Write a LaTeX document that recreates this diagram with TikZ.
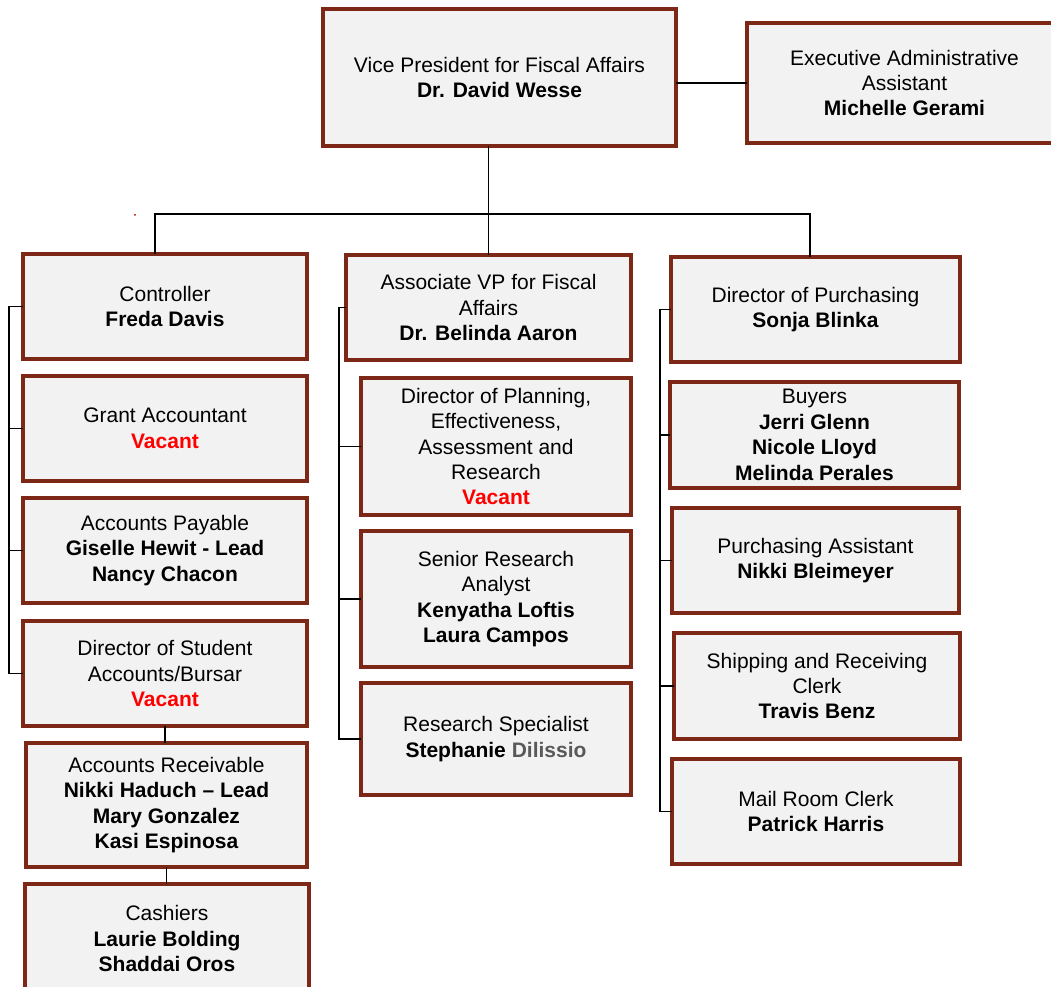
\documentclass[tikz,border=0pt]{standalone}
\usepackage{fontspec}
\setmainfont{Liberation Sans}
\definecolor{boxborder}{RGB}{125,40,22}
\definecolor{boxfill}{RGB}{242,242,242}
\definecolor{vacred}{RGB}{255,0,0}
\definecolor{namegray}{RGB}{89,89,89}
\tikzset{
  orgbox/.style={draw=boxborder, fill=boxfill, line width=2.3pt, inner sep=0pt, outer sep=0pt,
    align=center, font=\fontsize{15.75}{19.1}\selectfont},
  conn/.style={draw=black, line width=1.4pt},
}
\newcommand\vac{\textcolor{vacred}{\textbf{Vacant}}}
\newcommand\orgnode[6]{\node[orgbox, minimum width={(#4-#2)*0.75pt}, minimum height={(#5-#3)*0.75pt}] (#1) at ({(#2+#4)/2},{(#3+#5)/2+1}) {#6};}
\begin{document}
\begin{tikzpicture}[x=0.75pt,y=-0.75pt]
\useasboundingbox (0,0) rectangle (1051,987);
% coordinates for connector junctions
\coordinate (busL) at (155,214);
\coordinate (busR) at (810,214);
\coordinate (lbr) at (9,0);
\coordinate (mbr) at (339,0);
\coordinate (rbr) at (660,0);
% boxes
\orgnode{vp}{323}{8}{676}{145}{Vice President for Fiscal Affairs\\\textbf{Dr. David Wesse}}
\orgnode{exec}{747}{22}{1062}{142}{Executive Administrative\\Assistant\\\textbf{Michelle Gerami}}
% left column
\orgnode{ctrl}{23}{253}{307}{358}{Controller\\\textbf{Freda Davis}}
\orgnode{grant}{23}{375}{307}{480}{Grant Accountant\\\vac}
\orgnode{ap}{23}{497}{307}{602}{Accounts Payable\\\textbf{Giselle Hewit - Lead}\\\textbf{Nancy Chacon}}
\orgnode{dsa}{23}{620}{307}{725}{Director of Student\\Accounts/Bursar\\\vac}
\orgnode{ar}{26}{742}{307}{866}{Accounts Receivable\\\textbf{Nikki Haduch – Lead}\\\textbf{Mary Gonzalez}\\\textbf{Kasi Espinosa}}
\orgnode{cash}{25}{883}{309}{992}{Cashiers\\\textbf{Laurie Bolding}\\\textbf{Shaddai Oros}}
% middle column
\orgnode{avp}{346}{254}{631}{359}{Associate VP for Fiscal\\Affairs\\\textbf{Dr. Belinda Aaron}}
\orgnode{plan}{361}{377}{631}{514}{Director of Planning,\\Effectiveness,\\Assessment and\\Research\\\vac}
\orgnode{sra}{361}{530}{631}{666}{Senior Research\\Analyst\\\textbf{Kenyatha Loftis}\\\textbf{Laura Campos}}
\orgnode{rs}{361}{682}{631}{794}{Research Specialist\\\textbf{Stephanie \textcolor{namegray}{Dilissio}}}
% right column
\orgnode{dp}{671}{256}{960}{361}{Director of Purchasing\\\textbf{Sonja Blinka}}
\orgnode{buy}{670}{381}{959}{487}{Buyers\\\textbf{Jerri Glenn}\\\textbf{Nicole Lloyd}\\\textbf{Melinda Perales}}
\orgnode{pa}{672}{507}{959}{612}{Purchasing Assistant\\\textbf{Nikki Bleimeyer}}
\orgnode{ship}{674}{632}{960}{738}{Shipping and Receiving\\Clerk\\\textbf{Travis Benz}}
\orgnode{mail}{672}{758}{960}{863}{Mail Room Clerk\\\textbf{Patrick Harris}}
% connectors
\draw[conn] (exec.west) -- (exec.west -| vp.east);
\draw[conn] (avp.north) -- (avp.north |- vp.south);
\draw[conn] (busL |- ctrl.north) -- (busL) -- (busR) -- (busR |- dp.north);
% left bracket
\draw[conn] (ctrl.west) -- (ctrl.west -| lbr) |- (dsa.west);
\draw[conn] (grant.west) -- (grant.west -| lbr);
\draw[conn] (ap.west) -- (ap.west -| lbr);
\draw[conn] (dsa.south) -- (dsa.south |- ar.north);
\draw[conn] (ar.south) -- (ar.south |- cash.north);
% middle bracket
\draw[conn] (avp.west) -- (avp.west -| mbr) |- (rs.west);
\draw[conn] (plan.west) -- (plan.west -| mbr);
\draw[conn] (sra.west) -- (sra.west -| mbr);
% right bracket
\draw[conn] (dp.west) -- (dp.west -| rbr) |- (mail.west);
\draw[conn] (buy.west) -- (buy.west -| rbr);
\draw[conn] (pa.west) -- (pa.west -| rbr);
\draw[conn] (ship.west) -- (ship.west -| rbr);
% stray mark
\fill[vacred!70!black] (135,215) circle (1);
\end{tikzpicture}
\end{document}
